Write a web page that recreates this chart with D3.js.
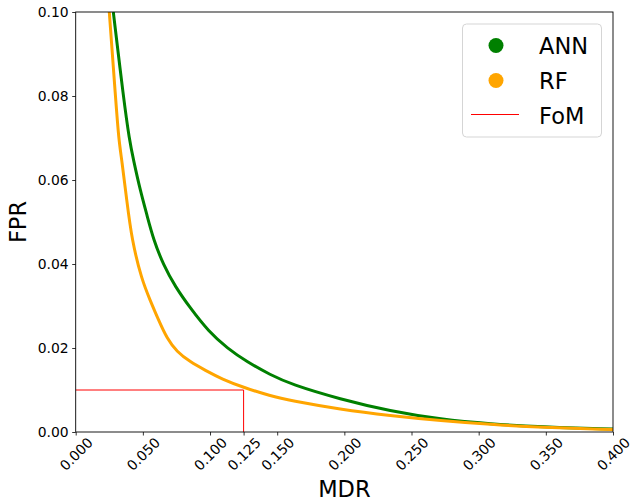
<!DOCTYPE html>
<html lang="en">
<head>
  <meta charset="UTF-8">
  <title>MDR vs FPR</title>
  <script src="https://d3js.org/d3.v7.min.js"></script>
  <style>
    body { margin: 0; background: #fff; }
  </style>
</head>
<body>
<script>
// curve readings (MDR, FPR)
const annMDR = [0.028, 0.0358, 0.040, 0.043, 0.048, 0.053, 0.058, 0.0653, 0.0741, 0.0853, 0.099, 0.113, 0.1275, 0.145, 0.160, 0.197, 0.234, 0.272, 0.309, 0.346, 0.400];
const annFPR = [0.100, 0.079, 0.0695, 0.0648, 0.0576, 0.0517, 0.0457, 0.0398, 0.0346, 0.0295, 0.0239, 0.0199, 0.0167, 0.0136, 0.0114, 0.0078, 0.0050, 0.0030, 0.0019, 0.0012, 0.0007];

const rfMDR = [0.025, 0.0298, 0.0321, 0.0343, 0.038, 0.0418, 0.0492, 0.0554, 0.0616, 0.0679, 0.0753, 0.0852, 0.0964, 0.1089, 0.125, 0.1449, 0.1598, 0.197, 0.234, 0.272, 0.309, 0.346, 0.400];
const rfFPR = [0.100, 0.079, 0.0695, 0.0648, 0.0552, 0.0457, 0.0362, 0.0314, 0.0267, 0.0223, 0.0191, 0.0167, 0.0147, 0.0126, 0.0106, 0.0086, 0.0075, 0.0054, 0.0039, 0.0027, 0.0018, 0.0011, 0.0006];

// figure of merit point
const fomMDR = 0.125;
const fomFPR = 0.01;

const xTicks = [0, 0.05, 0.1, 0.125, 0.15, 0.2, 0.25, 0.3, 0.35, 0.4];
const yTicks = [0, 0.02, 0.04, 0.06, 0.08, 0.1];

const legendNames = ["ANN", "RF", "FoM"];
const colors = { ANN: "green", RF: "orange", FoM: "red" };

const font = "'DejaVu Sans', sans-serif";
const width = 630, height = 503;
const margin = { left: 75.7, right: 17, top: 12, bottom: 71 };

const x = d3.scaleLinear().domain([0, 0.4]).range([margin.left, width - margin.right]);
const y = d3.scaleLinear().domain([0, 0.1]).range([height - margin.bottom, margin.top]);

const svg = d3.select("body").append("svg")
    .attr("width", width)
    .attr("height", height)
    .attr("font-family", font);

svg.append("clipPath").attr("id", "plotClip")
  .append("rect")
    .attr("x", x(0)).attr("y", y(0.1))
    .attr("width", x(0.4) - x(0)).attr("height", y(0) - y(0.1));

const line = d3.line()
    .x(d => x(d[0]))
    .y(d => y(d[1]))
    .curve(d3.curveBasis);

const plot = svg.append("g").attr("clip-path", "url(#plotClip)");

plot.append("path")
    .datum(d3.zip(annMDR, annFPR))
    .attr("d", line)
    .attr("fill", "none")
    .attr("stroke", colors.ANN)
    .attr("stroke-width", 3);

plot.append("path")
    .datum(d3.zip(rfMDR, rfFPR))
    .attr("d", line)
    .attr("fill", "none")
    .attr("stroke", colors.RF)
    .attr("stroke-width", 3);

// FoM guide lines
plot.append("path")
    .attr("d", d3.line()([[x(0), y(fomFPR)], [x(fomMDR), y(fomFPR)], [x(fomMDR), y(0)]]))
    .attr("fill", "none")
    .attr("stroke", colors.FoM)
    .attr("stroke-width", 1);

// axes
const xAxis = svg.append("g")
    .attr("transform", `translate(0,${y(0)})`)
    .call(d3.axisBottom(x).tickValues(xTicks).tickFormat(d3.format(".3f")).tickSize(3.5).tickPadding(3.5));
xAxis.attr("font-family", font).attr("font-size", 13.9);
xAxis.select(".domain").remove();
xAxis.selectAll("text")
    .attr("fill", "#000")
    .attr("text-anchor", "middle")
    .attr("dy", null)
    .attr("dominant-baseline", "central")
    .attr("transform", "translate(0,22) rotate(-45)")
    .attr("y", 0);

const yAxis = svg.append("g")
    .attr("transform", `translate(${x(0)},0)`)
    .call(d3.axisLeft(y).tickValues(yTicks).tickFormat(d3.format(".2f")).tickSize(3.5).tickPadding(3.5));
yAxis.attr("font-family", font).attr("font-size", 13.9);
yAxis.select(".domain").remove();
yAxis.selectAll("text").attr("fill", "#000");

svg.selectAll(".tick line").attr("stroke", "#000").attr("stroke-width", 0.8);

// frame
svg.append("rect")
    .attr("x", x(0)).attr("y", y(0.1))
    .attr("width", x(0.4) - x(0)).attr("height", y(0) - y(0.1))
    .attr("fill", "none")
    .attr("stroke", "#000")
    .attr("stroke-width", 0.9);

// axis labels
svg.append("text")
    .attr("x", (x(0) + x(0.4)) / 2)
    .attr("y", 497)
    .attr("text-anchor", "middle")
    .attr("font-size", 22.5)
    .text("MDR");

svg.append("text")
    .attr("transform", `translate(25.5,${(y(0) + y(0.1)) / 2}) rotate(-90)`)
    .attr("text-anchor", "middle")
    .attr("font-size", 22.5)
    .text("FPR");

// legend
const legend = svg.append("g");
legend.append("rect")
    .attr("x", 462.5).attr("y", 24)
    .attr("width", 139).attr("height", 113)
    .attr("rx", 4)
    .attr("fill", "#fff")
    .attr("fill-opacity", 0.8)
    .attr("stroke", "#d5d5d5")
    .attr("stroke-width", 1);

const rows = legend.selectAll(".row")
  .data(legendNames)
  .join("g")
    .attr("transform", (d, i) => `translate(0,${45.5 + i * 35})`);

rows.filter(d => d !== "FoM").append("circle")
    .attr("cx", 496).attr("cy", 0).attr("r", 7.5)
    .attr("fill", d => colors[d]);

rows.filter(d => d === "FoM").append("line")
    .attr("x1", 471).attr("x2", 519)
    .attr("y1", -1).attr("y2", -1)
    .attr("stroke", colors.FoM)
    .attr("stroke-width", 1);

rows.append("text")
    .attr("x", 539)
    .attr("y", 8)
    .attr("font-size", 22.5)
    .text(d => d);
</script>
</body>
</html>
